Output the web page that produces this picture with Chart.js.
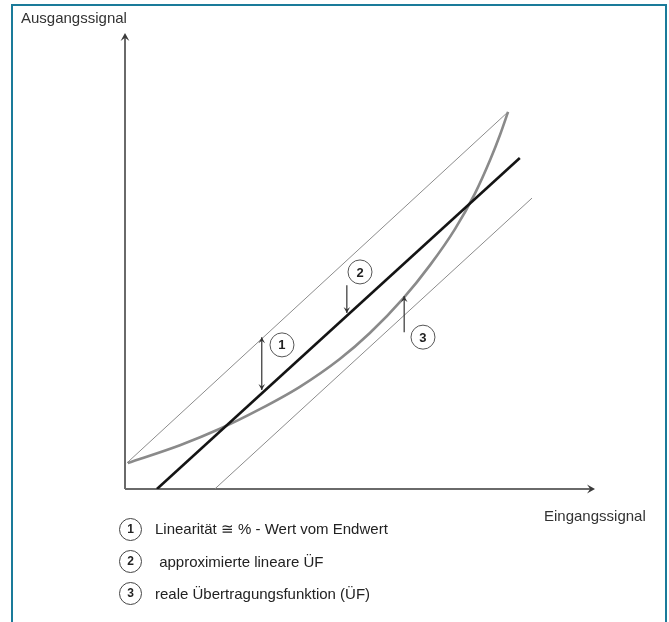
<!DOCTYPE html>
<html>
<head>
<meta charset="utf-8">
<script src="https://cdn.jsdelivr.net/npm/chart.js@4.4.1/dist/chart.umd.min.js"></script>
<style>
  body { margin: 0; width: 669px; height: 622px; overflow: hidden; background: #fff; font-family: "Liberation Sans", Arial, sans-serif; }
  #chart { position: absolute; left: 0; top: 0; }
  .frame { position: absolute; left: 11px; top: 4px; width: 652px; height: 700px; border: 2px solid #1a7b9a; border-bottom: none; }
  .lbl { position: absolute; font-size: 15px; color: #333; white-space: pre; line-height: 17px; }
  .row { position: absolute; left: 119px; height: 24px; display: flex; align-items: center; font-size: 15px; color: #222; white-space: pre; }
  .num { box-sizing: border-box; width: 23px; height: 23px; border: 1.3px solid #444; border-radius: 50%; display: inline-flex; align-items: center; justify-content: center; font-size: 12px; font-weight: bold; color: #222; margin-right: 13px; }
</style>
</head>
<body>
<div class="frame"></div>
<canvas id="chart" width="669" height="622"></canvas>
<div class="lbl" style="left:21px; top:9px;">Ausgangssignal</div>
<div class="lbl" style="left:544px; top:507px;">Eingangssignal</div>
<div id="legend"></div>

<script>
// axis units 0..100 on both axes (relative signal)

// real transfer function (curved)
const curveX = [0.6, 11.7, 20.2, 28.7, 37.2, 45.7, 52.1, 59.2, 64.9, 70.2, 74.5, 77.7, 79.8, 81.5];
const curveY = [5.7, 9.6, 13.2, 17.5, 22.4, 28.5, 34.2, 41.8, 49.1, 57.0, 64.9, 72.2, 77.7, 82.7];

// approximated linear transfer function
const fitX = [6.8, 84.0];
const fitY = [0, 72.6];

// tolerance band (thin lines)
const upperX = [0.4, 81.5];
const upperY = [5.7, 82.7];
const lowerX = [19.1, 86.6];
const lowerY = [0, 63.8];

// numbered markers
const markerLabels = ['1', '2', '3'];
const markerX = [33.4, 50.0, 63.4];
const markerY = [31.6, 47.6, 33.3];

// pointer arrows (from -> to), double = heads on both ends
const arrowX = [29.1, 47.2, 59.4];
const arrowFrom = [21.7, 44.7, 34.4];
const arrowTo = [33.3, 38.6, 42.3];
const arrowDouble = [true, false, false];

const legendTexts = ['Linearität ≅ % - Wert vom Endwert', ' approximierte lineare ÜF', 'reale Übertragungsfunktion (ÜF)'];

function pts(xs, ys) {
    return xs.map((x, i) => ({ x: x, y: ys[i] }));
}

function head(ctx, x, y, dx, dy, size) {
    const w = size * 0.55;
    ctx.beginPath();
    ctx.moveTo(x, y);
    ctx.lineTo(x - dx * size - dy * w, y - dy * size + dx * w);
    ctx.lineTo(x - dx * size * 0.6, y - dy * size * 0.6);
    ctx.lineTo(x - dx * size + dy * w, y - dy * size - dx * w);
    ctx.closePath();
    ctx.fill();
}

const sketchPlugin = {
    id: 'sketch',
    beforeDatasetsDraw(chart) {
        const { ctx, chartArea: a } = chart;
        ctx.save();
        ctx.strokeStyle = '#6a6a6a';
        ctx.fillStyle = '#3a3a3a';
        ctx.lineWidth = 2;
        ctx.beginPath();
        ctx.moveTo(a.left, a.bottom);
        ctx.lineTo(a.left, a.top + 3);
        ctx.moveTo(a.left, a.bottom);
        ctx.lineTo(a.right - 3, a.bottom);
        ctx.stroke();
        head(ctx, a.left, a.top, 0, -1, 8);
        head(ctx, a.right, a.bottom, 1, 0, 8);
        ctx.restore();
    },
    afterDatasetsDraw(chart) {
        const { ctx, scales: { x, y } } = chart;
        ctx.save();
        ctx.strokeStyle = '#333';
        ctx.fillStyle = '#333';
        ctx.lineWidth = 1.2;
        arrowX.forEach((ax, i) => {
            const px = x.getPixelForValue(ax);
            const y1 = y.getPixelForValue(arrowFrom[i]);
            const y2 = y.getPixelForValue(arrowTo[i]);
            const dir = y2 > y1 ? 1 : -1;
            ctx.beginPath();
            ctx.moveTo(px, y1);
            ctx.lineTo(px, y2);
            ctx.stroke();
            head(ctx, px, y2, 0, dir, 6);
            if (arrowDouble[i]) head(ctx, px, y1, 0, -dir, 6);
        });
        markerLabels.forEach((lab, i) => {
            const px = x.getPixelForValue(markerX[i]);
            const py = y.getPixelForValue(markerY[i]);
            ctx.beginPath();
            ctx.arc(px, py, 12, 0, Math.PI * 2);
            ctx.fillStyle = '#fff';
            ctx.fill();
            ctx.strokeStyle = '#555';
            ctx.lineWidth = 1;
            ctx.stroke();
            ctx.fillStyle = '#222';
            ctx.font = 'bold 13px "Liberation Sans", Arial, sans-serif';
            ctx.textAlign = 'center';
            ctx.textBaseline = 'middle';
            ctx.fillText(lab, px, py + 1);
        });
        ctx.restore();
    }
};

new Chart(document.getElementById('chart'), {
    type: 'scatter',
    data: {
        datasets: [
            { label: 'approximierte lineare ÜF', data: pts(fitX, fitY), showLine: true, borderColor: '#141414', borderWidth: 2.6, pointRadius: 0, order: 1 },
            { label: 'reale Übertragungsfunktion (ÜF)', data: pts(curveX, curveY), showLine: true, borderColor: '#8a8a8a', borderWidth: 2.6, pointRadius: 0, cubicInterpolationMode: 'monotone', order: 2 },
            { label: 'Grenze oben', data: pts(upperX, upperY), showLine: true, borderColor: '#8c8c8c', borderWidth: 1, pointRadius: 0, order: 3 },
            { label: 'Grenze unten', data: pts(lowerX, lowerY), showLine: true, borderColor: '#8c8c8c', borderWidth: 1, pointRadius: 0, order: 4 }
        ]
    },
    options: {
        responsive: false,
        animation: false,
        layout: { padding: { left: 125, right: 74, top: 33, bottom: 133 } },
        scales: {
            x: { type: 'linear', min: 0, max: 100, display: false },
            y: { type: 'linear', min: 0, max: 100, display: false }
        },
        plugins: { legend: { display: false }, tooltip: { enabled: false } }
    },
    plugins: [sketchPlugin]
});

// legend rows below the chart
const legend = document.getElementById('legend');
legendTexts.forEach((t, i) => {
    legend.insertAdjacentHTML('beforeend',
        `<div class="row" style="top:${517 + i * 32}px"><span class="num">${markerLabels[i]}</span>${t}</div>`);
});
</script>
</body>
</html>
